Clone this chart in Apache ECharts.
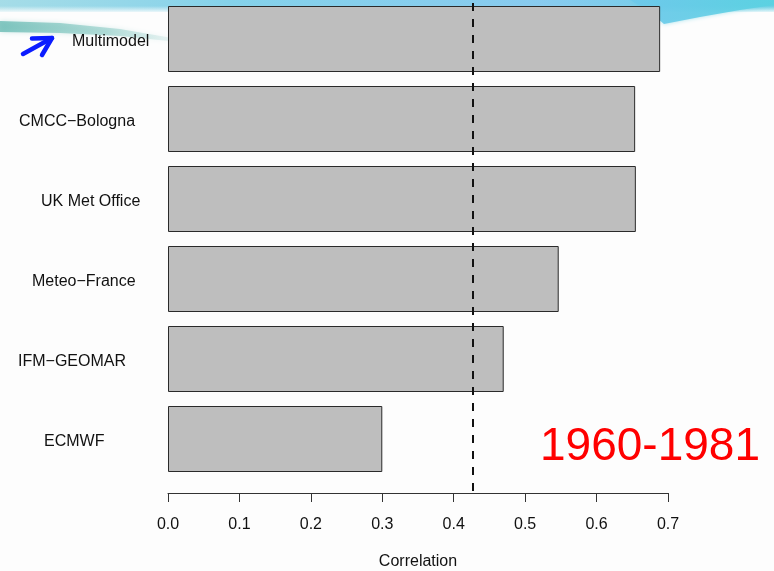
<!DOCTYPE html>
<html>
<head>
<meta charset="utf-8">
<script src="https://cdn.jsdelivr.net/npm/echarts@6/dist/echarts.min.js"></script>
<style>
  html, body { margin: 0; padding: 0; background: #fdfdfd; }
  #chart { width: 774px; height: 571px; }
</style>
</head>
<body>
<div id="chart"></div>
<script>
// Forecast systems, top to bottom
const models = ['Multimodel', 'CMCC\u2212Bologna', 'UK Met Office', 'Meteo\u2212France', 'IFM\u2212GEOMAR', 'ECMWF'];
// Correlation skill of each system
const correlation = [0.689, 0.654, 0.655, 0.547, 0.470, 0.300];
// Reference level drawn as the dashed vertical line
const referenceLevel = 0.427;
// Axis tick labels
const xTickLabels = ['0.0', '0.1', '0.2', '0.3', '0.4', '0.5', '0.6', '0.7'];
const axisTitle = 'Correlation';
const periodLabel = '1960-1981';

// Per-label left indent of the model names (layout only)
const labelIndent = [54, 1, 23, 14, 0, 26];

const FONT = '"Liberation Sans", Arial, Helvetica, sans-serif';
const GRID_LEFT = 168, GRID_WIDTH = 500;

const rich = {};
labelIndent.forEach((pad, i) => {
  rich['m' + i] = { padding: [5, 0, 0, pad], fontSize: 16, fontFamily: FONT, color: '#111' };
});

const chart = echarts.init(document.getElementById('chart'));

chart.setOption({
  backgroundColor: '#fdfdfd',
  animation: false,
  graphic: [
    // soft slide banner along the top edge
    {
      type: 'rect', z: -10, silent: true,
      shape: { x: 0, y: 0, width: 774, height: 12 },
      style: {
        fill: new echarts.graphic.LinearGradient(0, 0, 1, 0, [
          { offset: 0, color: 'rgba(150,215,228,0.85)' },
          { offset: 0.3, color: 'rgba(120,205,232,0.9)' },
          { offset: 0.7, color: 'rgba(130,200,238,0.95)' },
          { offset: 1, color: 'rgba(95,205,225,0.95)' }
        ])
      }
    },
    {
      type: 'rect', z: -9, silent: true,
      shape: { x: 0, y: 6, width: 774, height: 12 },
      style: {
        fill: new echarts.graphic.LinearGradient(0, 0, 0, 1, [
          { offset: 0, color: 'rgba(253,253,253,0)' },
          { offset: 0.6, color: 'rgba(253,253,253,1)' },
          { offset: 1, color: 'rgba(253,253,253,1)' }
        ])
      }
    },
    // teal streak on the left
    {
      type: 'polygon', z: -8, silent: true,
      shape: { points: [[0, 21], [60, 23], [120, 29], [178, 39], [178, 42], [120, 36], [60, 33], [0, 32]] },
      style: {
        fill: new echarts.graphic.LinearGradient(0, 0, 1, 0, [
          { offset: 0, color: 'rgba(90,180,172,0.7)' },
          { offset: 0.6, color: 'rgba(110,190,182,0.45)' },
          { offset: 1, color: 'rgba(130,195,190,0.1)' }
        ]),
        shadowBlur: 5, shadowColor: 'rgba(110,190,185,0.5)'
      }
    },
    // cyan swoop on the right
    {
      type: 'polygon', z: -8, silent: true,
      shape: { points: [[630, 0], [774, 0], [774, 5], [740, 10], [700, 17], [664, 24], [650, 12]] },
      style: {
        fill: new echarts.graphic.LinearGradient(0, 0, 1, 0, [
          { offset: 0, color: 'rgba(110,200,235,0.9)' },
          { offset: 1, color: 'rgba(90,210,225,0.9)' }
        ]),
        shadowBlur: 4, shadowColor: 'rgba(100,205,225,0.6)'
      }
    },
    // blue pointer arrow next to the multimodel label
    {
      type: 'polyline', z: 5, silent: true,
      shape: { points: [[23, 54], [52, 38]] },
      style: { stroke: '#0b1cff', lineWidth: 4.5, lineCap: 'round' }
    },
    {
      type: 'polyline', z: 5, silent: true,
      shape: { points: [[32, 38.5], [52, 38], [42, 55]] },
      style: { stroke: '#0b1cff', lineWidth: 4.5, lineCap: 'round', lineJoin: 'round' }
    },
    // period label
    {
      type: 'text', z: 5, silent: true,
      left: 540, top: 424,
      style: { text: periodLabel, fill: '#ff0000', fontSize: 46, fontFamily: FONT }
    }
  ],
  grid: [
    { left: GRID_LEFT, width: GRID_WIDTH, top: -1, height: 480, outerBoundsMode: 'none', containLabel: false },
    { left: GRID_LEFT, width: GRID_WIDTH, top: 0, height: 491, outerBoundsMode: 'none', containLabel: false }
  ],
  xAxis: [
    {
      gridIndex: 0, type: 'value', min: 0, max: 0.7, interval: 0.1,
      offset: 14,
      splitLine: { show: false },
      axisLine: { show: true, lineStyle: { color: '#333', width: 1 } },
      axisTick: { show: true, length: 9, lineStyle: { color: '#333', width: 1 } },
      axisLabel: {
        margin: 24, fontSize: 16, fontFamily: FONT, color: '#111',
        formatter: (v) => xTickLabels[Math.round(v * 10)]
      },
      name: axisTitle, nameLocation: 'middle', nameGap: 61,
      nameTextStyle: { fontSize: 16, fontFamily: FONT, color: '#111' }
    },
    { gridIndex: 1, type: 'value', min: 0, max: 0.7, show: false }
  ],
  yAxis: [
    {
      gridIndex: 0, type: 'category', data: models, inverse: true,
      axisLine: { show: false }, axisTick: { show: false }, splitLine: { show: false },
      axisLabel: {
        align: 'left', margin: 150,
        formatter: (v, i) => '{m' + i + '|' + v + '}',
        rich: rich
      }
    },
    { gridIndex: 1, type: 'value', min: 0, max: 1, show: false }
  ],
  series: [
    {
      type: 'bar', xAxisIndex: 0, yAxisIndex: 0,
      data: correlation, barWidth: 66,
      itemStyle: { color: '#bebebe', borderColor: '#2a2a2a', borderWidth: 1 },
      z: 2
    },
    {
      type: 'line', xAxisIndex: 1, yAxisIndex: 1,
      data: [[referenceLevel, 0], [referenceLevel, 1]],
      symbol: 'none', silent: true,
      lineStyle: { color: '#111', width: 2, type: [8, 8] },
      z: 3
    }
  ]
});
</script>
</body>
</html>
